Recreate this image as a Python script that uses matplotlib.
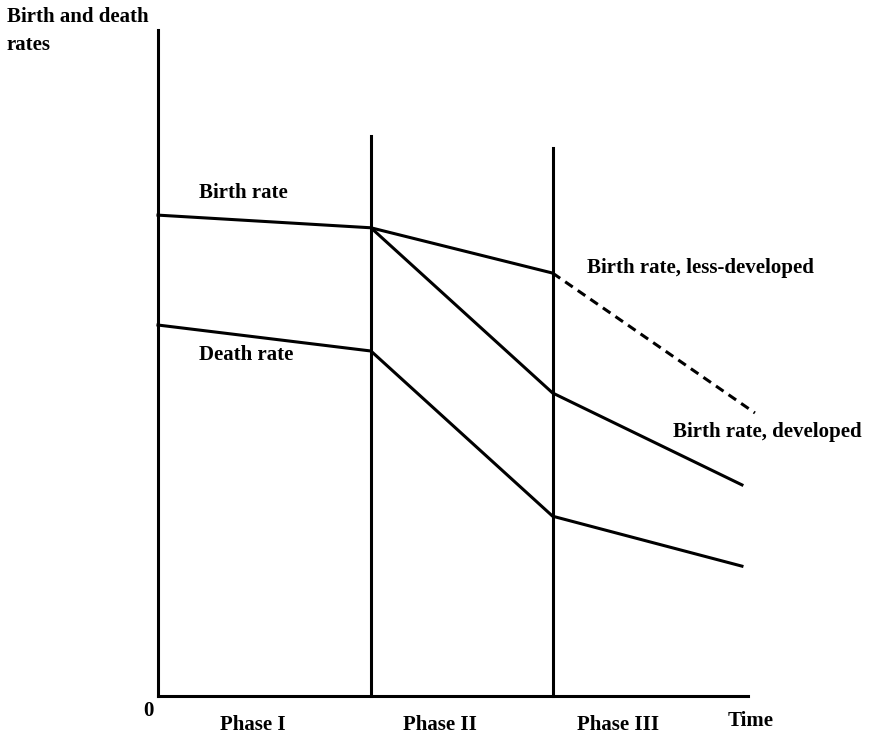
import matplotlib
matplotlib.use("Agg")
import matplotlib.pyplot as plt

# time axis in % of axis length, rates in % of axis height
phase_x = [0, 36.1, 66.9]
phase_top = [100, 84.1, 82.3]
phase_names = ["Phase I", "Phase II", "Phase III"]

birth_x = [0, 36.1, 66.9]
birth_y = [72.2, 70.3, 63.5]
birth_less_x = [66.9, 101.2]
birth_less_y = [63.5, 42.5]
birth_dev_x = [36.1, 66.9, 99.0]
birth_dev_y = [70.3, 45.5, 31.7]
death_x = [0, 36.1, 66.9, 99.0]
death_y = [55.7, 51.8, 27.0, 19.5]

plt.rcParams['font.family'] = ['Liberation Serif', 'DejaVu Serif']
plt.rcParams['font.weight'] = 'bold'

fig = plt.figure(figsize=(8.7, 7.36), dpi=100)
ax = fig.add_axes([0.1816, 0.0543, 0.678, 0.905])
ax.set_xlim(0, 100)
ax.set_ylim(0, 100)

lw = 2.2
for s in ['top', 'right']:
    ax.spines[s].set_visible(False)
for s in ['left', 'bottom']:
    ax.spines[s].set_linewidth(lw)
ax.set_xticks([])
ax.set_yticks([])

# phase boundaries
for x, top in zip(phase_x[1:], phase_top[1:]):
    ax.plot([x, x], [0, top], color='black', lw=lw, clip_on=False)

ax.plot(birth_x, birth_y, color='black', lw=lw, clip_on=False)
ax.plot(birth_dev_x, birth_dev_y, color='black', lw=lw, clip_on=False)
ax.plot(birth_less_x, birth_less_y, color='black', lw=lw, ls=(0, (3, 2)),
        clip_on=False)
ax.plot(death_x, death_y, color='black', lw=lw, clip_on=False)

fs = 15
ax.text(6.9, 75.5, "Birth rate", fontsize=fs, va='center')
ax.text(6.9, 51.2, "Death rate", fontsize=fs, va='center')
ax.text(72.7, 64.3, "Birth rate, less-developed", fontsize=fs, va='center')
ax.text(87.3, 39.6, "Birth rate, developed", fontsize=fs, va='center')

# labels under the axis
phase_lx = [16.1, 47.8, 78.0]
for x, name in zip(phase_lx, phase_names):
    ax.text(x, -4.3, name, fontsize=fs, ha='center', va='center',
            clip_on=False)
ax.text(100.5, -3.7, "Time", fontsize=fs, ha='center', va='center')
ax.text(-1.6, -2.3, "0", fontsize=fs, ha='center', va='center')

# y-axis title, two lines
fig.text(7 / 870, 1 - 17 / 736, "Birth and death", fontsize=fs,
         ha='left', va='center')
fig.text(7 / 870, 1 - 45 / 736, "rates", fontsize=fs,
         ha='left', va='center')

fig.savefig("out.png", dpi=100)
